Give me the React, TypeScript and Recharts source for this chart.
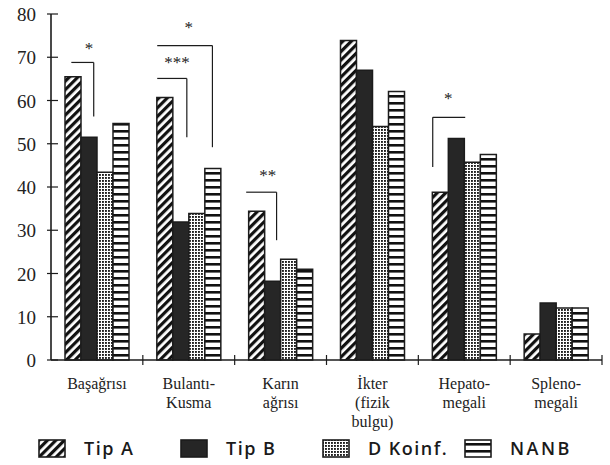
import {BarChart, Bar, XAxis, YAxis, Legend, ReferenceLine, ReferenceDot} from 'recharts';

const categories = ['Başağrısı', 'Bulantı-\nKusma', 'Karın\nağrısı', 'İkter\n(fizik\nbulgu)', 'Hepato-\nmegali', 'Spleno-\nmegali'];
const tipA = [65.5, 60.7, 34.4, 73.9, 38.8, 6];
const tipB = [51.5, 31.9, 18.2, 67, 51.2, 13.2];
const dKoinf = [43.4, 33.9, 23.3, 54, 45.7, 12];
const nanb = [54.7, 44.3, 21, 62.1, 47.5, 12];
const yTicks = [0, 10, 20, 30, 40, 50, 60, 70, 80];

// significance brackets (category index, label, line level, end of vertical, label level)
const sigCategory = [0, 1, 1, 2, 4];
const sigLabel = ['*', '***', '*', '**', '*'];
const sigTop = [68.8, 65.1, 72.7, 38.8, 56.1];
const sigBottom = [56.3, 51.5, 49.2, 27.7, 44.6];
const sigLabelY = [72.8, 69.7, 77.8, 43.4, 61.2];

// bracket layout in bar slots (0 = left edge of the group, 4 = right edge)
const sigFrom = [0.4, 0.03, 0.03, -0.15, 0.03];
const sigTo = [1.8, 1.88, 3.48, 1.75, 2.06];
const sigLabelSlot = [1.5, 1.26, 2.0, 1.2, 1.0];
const sigSide = ['right', 'right', 'right', 'right', 'left'];

const data = categories.map((c, i) => ({
    name: c,
    tipA: tipA[i],
    tipB: tipB[i],
    dKoinf: dKoinf[i],
    nanb: nanb[i],
}));

const W = 610;
const H = 465;
const M = {top: 14, right: 8, left: 11, bottom: 0};
const Y_W = 40;
const BAR = 16;
const BAND = (W - M.left - M.right - Y_W) / categories.length;
const INK = '#1c1c1c';
const SERIF = '"Liberation Serif", "DejaVu Serif", serif';

const series = [
    {key: 'tipA', name: 'Tip A', fill: 'url(#pA)'},
    {key: 'tipB', name: 'Tip B', fill: '#262626'},
    {key: 'dKoinf', name: 'D Koinf.', fill: 'url(#pD)'},
    {key: 'nanb', name: 'NANB', fill: 'url(#pN)'},
];

function XTick(props: any) {
    const {x, y, payload} = props;
    const lines = String(payload.value).split('\n');
    return (
        <g>
            <line x1={x + BAND / 2} x2={x + BAND / 2} y1={y - 5} y2={y + 5} stroke={INK} strokeWidth={1.2}/>
            <text x={x} y={y + 29} textAnchor="middle" fontFamily={SERIF} fontSize={16} fill="#222">
                {lines.map((l, i) => (
                    <tspan key={i} x={x} dy={i === 0 ? 0 : 19}>{l}</tspan>
                ))}
            </text>
        </g>
    );
}

function YTick(props: any) {
    const {x, y, payload} = props;
    return (
        <g>
            <line x1={x + 10} x2={x + 21} y1={y} y2={y} stroke={INK} strokeWidth={1.2}/>
            <text x={x - 1} y={y + 7} textAnchor="end" fontFamily={SERIF} fontSize={19} fill="#222">
                {payload.value}
            </text>
        </g>
    );
}

function LegendBox({items}: any) {
    return (
        <div style={{display: 'flex', alignItems: 'center', height: 34, paddingLeft: 38}}>
            {items.map((s: any) => (
                <div key={s.key} style={{display: 'flex', alignItems: 'center', width: 142}}>
                    <svg width={28} height={19} style={{display: 'block'}}>
                        <rect x={1} y={1} width={26} height={17} fill={s.fill} stroke={INK} strokeWidth={1.6}/>
                    </svg>
                    <span style={{
                        marginLeft: 18,
                        fontFamily: '"Open Sans", "Noto Sans", sans-serif',
                        fontWeight: 600,
                        fontSize: 18,
                        color: '#1a1a1a',
                        letterSpacing: s.key === 'nanb' ? 2.5 : 1.5,
                    }}>{s.name}</span>
                </div>
            ))}
        </div>
    );
}

function bracketShape(i: number) {
    return (p: any) => {
        const left = p.x1 - 2 * BAR;
        const xa = left + sigFrom[i] * BAR;
        const xb = left + sigTo[i] * BAR;
        const xv = sigSide[i] === 'left' ? xa : xb;
        return (
            <g>
                <line x1={xa} x2={xb} y1={p.y1} y2={p.y1} stroke={INK} strokeWidth={1.2}/>
                <line x1={xv} x2={xv} y1={p.y1} y2={p.y2} stroke={INK} strokeWidth={1.2}/>
            </g>
        );
    };
}

function starShape(i: number) {
    return (p: any) => (
        <text x={p.cx - 2 * BAR + sigLabelSlot[i] * BAR} y={p.cy + 9} textAnchor="middle"
              fontFamily={SERIF} fontSize={17} fill="#222">
            {sigLabel[i]}
        </text>
    );
}

export default function App() {
    return (
        <div style={{position: 'absolute', left: 0, top: 0, background: '#fff'}}>
            <BarChart width={W} height={H} data={data} margin={M} barGap={0} barSize={BAR}>
                <defs>
                    <pattern id="pA" width={6} height={6} patternUnits="userSpaceOnUse" patternTransform="rotate(45)">
                        <rect width={6} height={6} fill="#fff"/>
                        <rect width={3.2} height={6} fill="#111"/>
                    </pattern>
                    <pattern id="pD" width={3} height={3} patternUnits="userSpaceOnUse">
                        <rect width={3} height={3} fill="#fff"/>
                        <rect x={0} y={0} width={1.9} height={1.9} fill="#1e1e1e"/>
                    </pattern>
                    <pattern id="pN" width={10} height={7} patternUnits="userSpaceOnUse">
                        <rect width={10} height={7} fill="#fff"/>
                        <rect y={4} width={10} height={2.6} fill="#111"/>
                    </pattern>
                </defs>
                <XAxis dataKey="name" height={71} interval={0} tickLine={false} tickSize={0} tickMargin={0}
                       axisLine={{stroke: INK, strokeWidth: 1.4}} tick={<XTick/>}/>
                <YAxis width={Y_W} domain={[0, 80]} ticks={yTicks} interval={0} tickLine={false} tickSize={0}
                       tickMargin={14} axisLine={{stroke: INK, strokeWidth: 1.6}} tick={<YTick/>}/>
                <Legend verticalAlign="bottom" height={34} wrapperStyle={{left: 0, width: W}}
                        content={() => <LegendBox items={series}/>}/>
                {series.map((s) => (
                    <Bar key={s.key} dataKey={s.key} name={s.name} fill={s.fill} stroke={INK}
                         strokeWidth={1.5} isAnimationActive={false}/>
                ))}
                {sigCategory.map((c, i) => (
                    <ReferenceLine key={'b' + i} ifOverflow="visible"
                                   segment={[{x: categories[c], y: sigTop[i]}, {x: categories[c], y: sigBottom[i]}]}
                                   shape={bracketShape(i)}/>
                ))}
                {sigCategory.map((c, i) => (
                    <ReferenceDot key={'s' + i} x={categories[c]} y={sigLabelY[i]} ifOverflow="visible"
                                  shape={starShape(i)}/>
                ))}
            </BarChart>
        </div>
    );
}
